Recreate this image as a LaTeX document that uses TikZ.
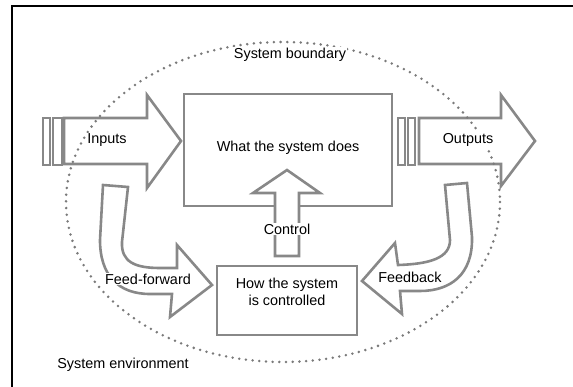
\documentclass[tikz,border=0pt]{standalone}
\usepackage{fontspec}
\setmainfont{Liberation Sans}
\definecolor{linegray}{HTML}{888888}
\tikzset{
  grayline/.style={draw=linegray, line width=2.6pt},
  fatarrow/.style={grayline, fill=white, line join=miter},
  boundary/.style={draw=linegray!90!black, line width=2.8pt, line cap=round, dash pattern=on 0pt off 6.7pt},
  lbl/.style={inner sep=1pt, font=\fontsize{14.4}{17}\selectfont},
  wlbl/.style={lbl, fill=white},
}
\begin{document}
\begin{tikzpicture}[x=1pt,y=-1pt]
\useasboundingbox (0,0) rectangle (573,387);
\draw [line width=2pt] (12,387) -- (12,6) -- (573,6);
%
\draw [grayline] (184,94) rectangle (392,206);
\draw [grayline] (217,266) rectangle (357,335);
%
\draw [grayline] (43,118) rectangle (50,165);
\draw [grayline] (53,118) rectangle (62,165);
\draw [fatarrow] (64,118) -- (147,118) -- (147,95) -- (181,141) -- (147,188) -- (147,164) -- (64,164) -- cycle;
\draw [grayline] (398,118) rectangle (405,165);
\draw [grayline] (408,118) rectangle (415,165);
\draw [fatarrow] (419,118) -- (501,118) -- (501,95) -- (535,141) -- (501,186) -- (501,164) -- (419,164) -- cycle;
%
\draw [fatarrow] (275,256) -- (275,193) -- (253,193) -- (287,170) -- (320,193) -- (299,193) -- (299,256) -- cycle;
\draw [fatarrow] (103,185) -- (128,187) -- (122,242) .. controls (121,262) and (135,268) .. (160,268)
  -- (177,268) -- (177,245) -- (212,285) -- (170,317) -- (172,294) -- (150,294)
  .. controls (118,294) and (100,275) .. (100,240) -- cycle;
\draw [fatarrow] (445,185) -- (467,183) -- (472,237) .. controls (473,275) and (450,291) .. (420,291)
  -- (400,291) -- (402,314) -- (362,281) -- (395,243) -- (398,265)
  .. controls (430,264) and (450,258) .. (450,240) -- cycle;
%
\draw [boundary] (283,202) ellipse [x radius=217, y radius=160];
%
\node [lbl] (does) at (288,148) {What the system does};
\node [lbl, align=center] (how) at (287,292) {How the system\\is controlled};
\node [wlbl] (in) at (107,140) {Inputs};
\node [wlbl] (out) at (468,140) {Outputs};
\node [wlbl] (ctl) at (287,229) {Control};
\node [wlbl] (ff) at (148,279) {Feed-forward};
\node [wlbl] (fb) at (410,277) {Feedback};
\node [wlbl] (bound) at (290,55) {System boundary};
\node [lbl] (env) at (123,365) {System environment};
\end{tikzpicture}
\end{document}
